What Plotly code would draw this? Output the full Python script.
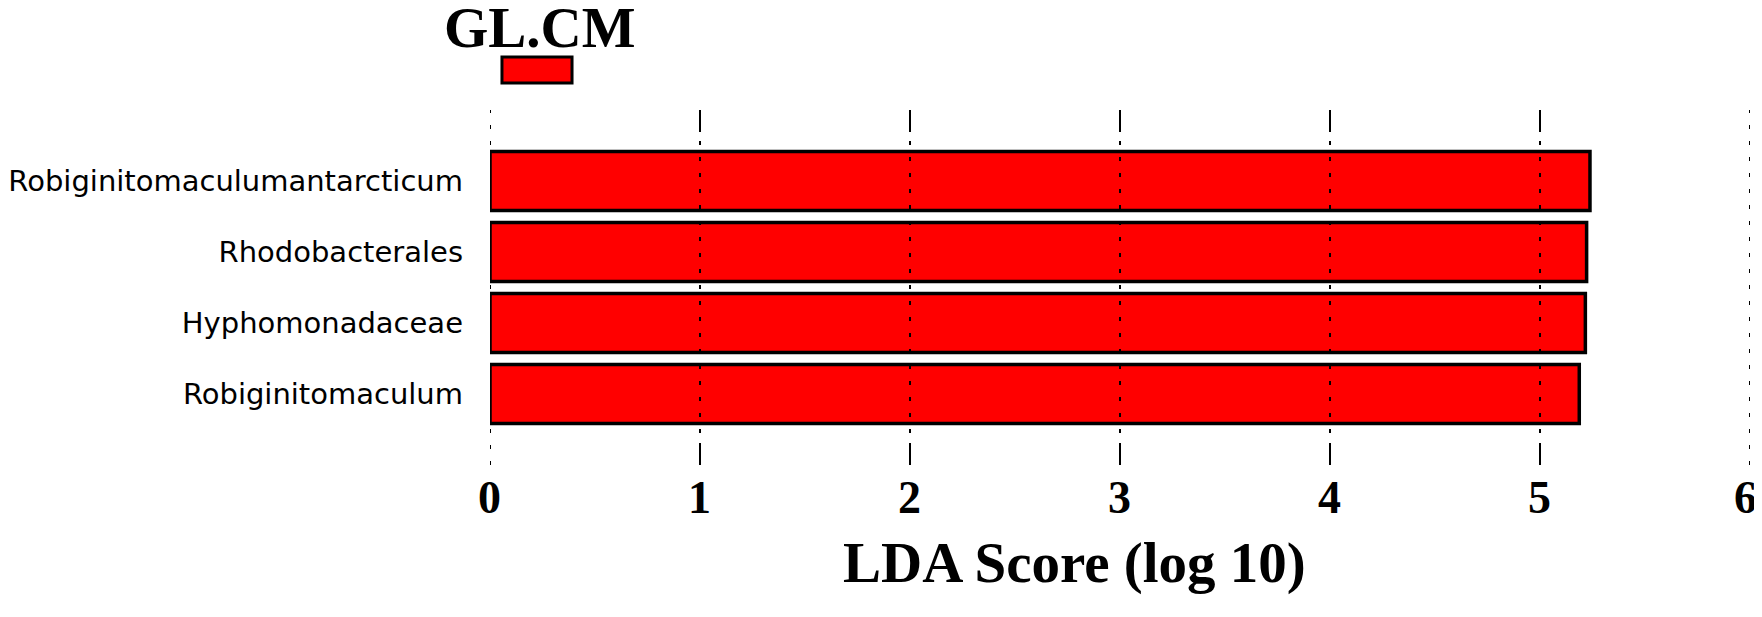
import plotly.graph_objects as go

# --- Data (bottom to top) ---
TAXA = ["Robiginitomaculum", "Hyphomonadaceae", "Rhodobacterales", "Robiginitomaculumantarcticum"]
LDA_SCORES = [5.187, 5.216, 5.222, 5.238]
X_TICKS = [0, 1, 2, 3, 4, 5, 6]
GROUP = "GL.CM"
AXIS_TITLE = "LDA Score (log 10)"

SERIF = "Liberation Serif, Times New Roman, serif"
SANS = "DejaVu Sans, sans-serif"

fig = go.Figure()
fig.add_trace(go.Bar(
    x=LDA_SCORES, y=TAXA, orientation="h",
    marker=dict(color="#ff0000", line=dict(color="black", width=3.5)),
    showlegend=False, hoverinfo="x+y",
))

# dashed grid drawn over the bars, like the original
for t in X_TICKS:
    fig.add_shape(type="line", xref="x", yref="paper", x0=t, x1=t, y0=0, y1=1,
                  line=dict(color="black", width=2, dash="4px,12px"), layer="above")
    # tick labels placed by hand so they sit close to the axis
    # (last one nudged left so it stays inside the page)
    fig.add_annotation(text=f"<b>{t}</b>", xref="x", yref="paper", x=t, y=-0.092,
                       xanchor="center", yanchor="middle", showarrow=False,
                       xshift=-5 if t == X_TICKS[-1] else -1,
                       font=dict(family=SERIF, size=46, color="black"))

# legend box + group name
fig.add_shape(type="rect", xref="paper", yref="paper", x0=0.0095, x1=0.0651, y0=1.0761, y1=1.1493,
              fillcolor="#ff0000", line=dict(color="black", width=3), layer="above")
fig.add_annotation(text=f"<b>{GROUP}</b>", xref="paper", yref="paper", x=0.0397, y=1.232,
                   xanchor="center", yanchor="middle", showarrow=False,
                   font=dict(family=SERIF, size=57, color="black"))
fig.add_annotation(text=f"<b>{AXIS_TITLE}</b>", xref="paper", yref="paper", x=0.4635, y=-0.275,
                   xanchor="center", yanchor="middle", showarrow=False,
                   font=dict(family=SERIF, size=57, color="black"))

# page body has an 8px margin, so the figure is 8px smaller and margins shifted
fig.update_layout(
    width=1754, height=609,
    margin=dict(l=482, r=12, t=102, b=152),
    paper_bgcolor="white", plot_bgcolor="white",
    bargap=0.17,
    xaxis=dict(range=[0, 6], tickvals=X_TICKS, showticklabels=False, automargin=False,
               showgrid=False, zeroline=False, showline=False,
               ticks="inside", ticklen=22, tickwidth=2, tickcolor="black", mirror="ticks"),
    yaxis=dict(range=[-1, 4], showgrid=False, zeroline=False, showline=False, ticks="",
               automargin=False,
               tickfont=dict(family=SANS, size=29, color="black"), ticklabelstandoff=26),
)

fig.write_html("out.html")
